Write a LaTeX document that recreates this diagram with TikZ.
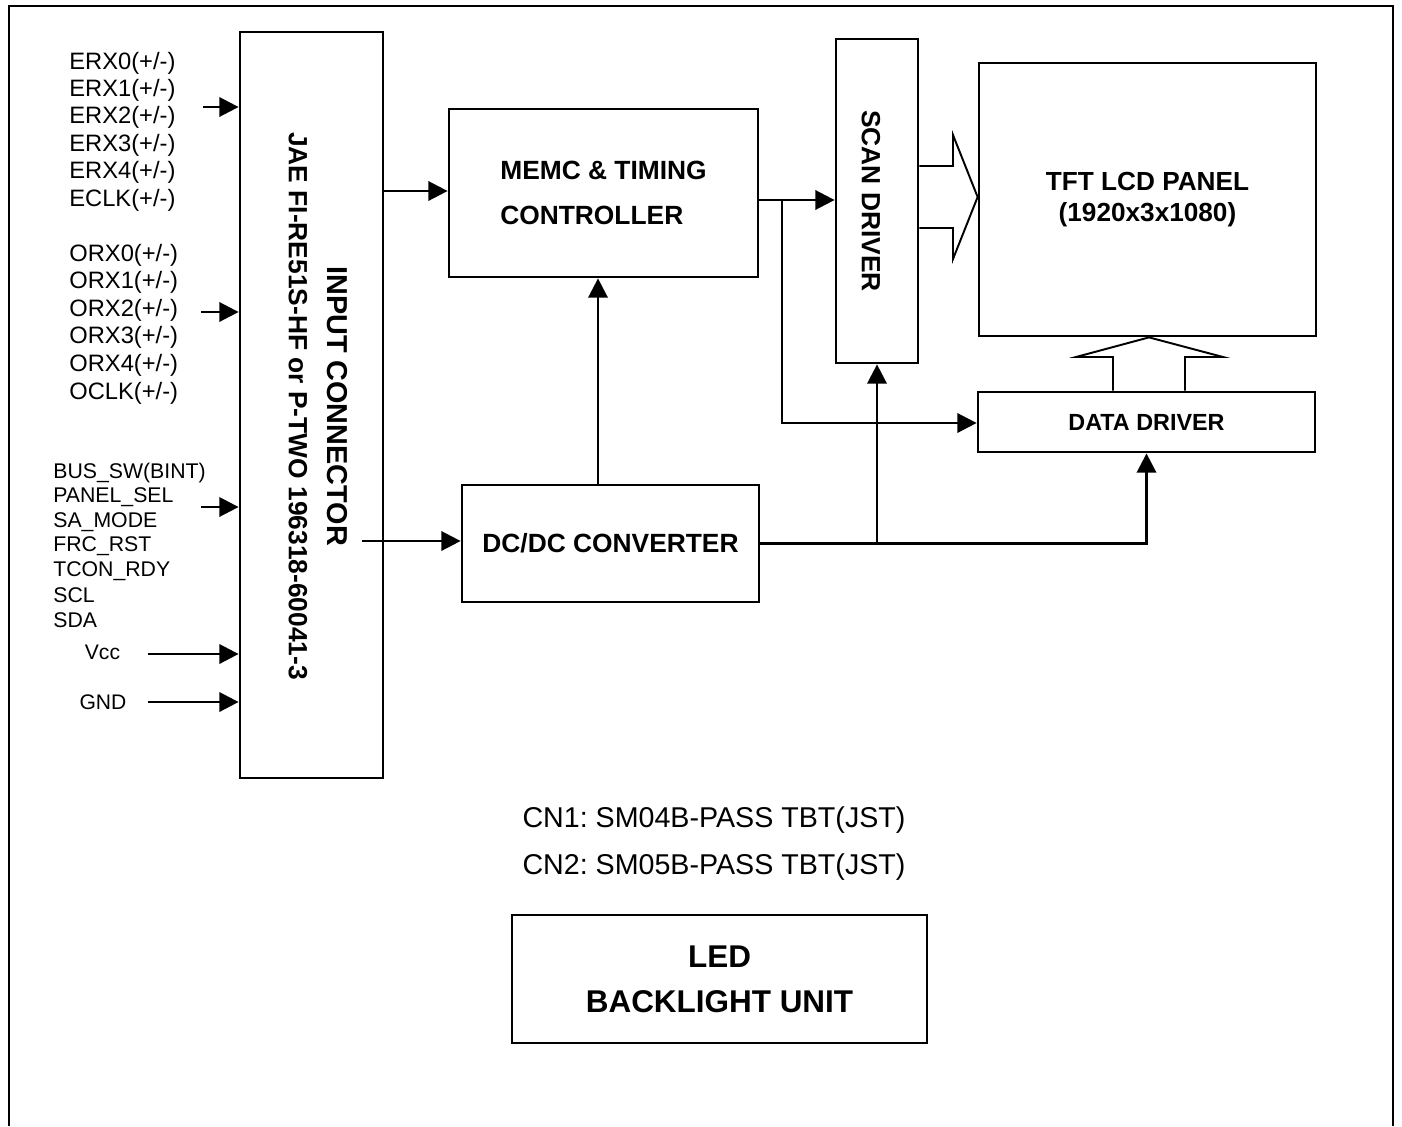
\documentclass[tikz,border=0pt]{standalone}
\usepackage{fontspec}
\setmainfont{Liberation Sans}
\usetikzlibrary{arrows.meta}
\frenchspacing

\begin{document}
\begin{tikzpicture}[x=0.02cm,y=-0.02cm,
  box/.style={draw,line width=1.6pt,inner sep=0pt},
  sig/.style={inner sep=0pt,anchor=west},
  arr/.style={line width=1.5pt,-{Triangle[length=11pt,width=11pt]}},
  hollow/.style={line width=1.1pt,line join=miter}]

\useasboundingbox (0,0) rectangle (1402,1126);

% Frame
\draw[line width=1.5pt] (9,1126) |- (1393,6) -- (1393,1126);

% Input connector
\node[box,minimum width=2.86cm,minimum height=14.92cm] (conn) at (311.5,405) {};
\node[rotate=-90,font=\bfseries\fontsize{16.4}{19}\selectfont] (conntitle) at (337,406)
{INPUT CONNECTOR};
\node[rotate=-90,font=\bfseries\fontsize{15}{18}\selectfont] (connpart) at (298,406)
{JAE FI-RE51S-HF or P-TWO 196318-60041-3};

% Input signals
\foreach \s [count=\i from 0] in {ERX0,ERX1,ERX2,ERX3,ERX4,ECLK}
{
\node[sig,font=\fontsize{13.5}{16}\selectfont] (e\i) at (69,63+27.4*\i) {\s(+/-)};
}
\foreach \s [count=\i from 0] in {ORX0,ORX1,ORX2,ORX3,ORX4,OCLK}
{
\node[sig,font=\fontsize{13.5}{16}\selectfont] (o\i) at (69,255+27.6*\i) {\s(+/-)};
}
\foreach \s [count=\i from 0] in {BUS\_SW(BINT),PANEL\_SEL,SA\_MODE,FRC\_RST,TCON\_RDY,SCL,SDA}
{
\node[sig,font=\fontsize{12.1}{14}\selectfont] (b\i) at (53,473+24.5*\i) {\s};
}
\node[font=\fontsize{12}{14}\selectfont] (vcc) at (102.5,652) {Vcc};
\node[font=\fontsize{12}{14}\selectfont] (gnd) at (103,702) {GND};

\foreach \n/\x/\y in {ein/203/107,oin/201/312,bin/201/507,vin/148/654,gin/148/702}
{
\coordinate (\n) at (\x,\y);
\draw[arr] (\n) -- (\n -| conn.west);
}

% Blocks
\node[box,minimum width=6.18cm,minimum height=3.36cm,align=left,
  font=\bfseries\fontsize{15}{26}\selectfont] (memc) at (603.5,193)
{MEMC \& TIMING\\CONTROLLER};
\node[box,minimum width=5.94cm,minimum height=2.34cm,
  font=\bfseries\fontsize{15}{18}\selectfont] (dcdc) at (610.5,543.5)
{DC/DC CONVERTER};
\node[box,minimum width=1.64cm,minimum height=6.48cm] (scan) at (877,201) {};
\node[rotate=-90,font=\bfseries\fontsize{15}{18}\selectfont] (scantext) at (871,201)
{SCAN DRIVER};
\node[box,minimum width=6.74cm,minimum height=5.46cm,align=center,
  font=\bfseries\fontsize{14.9}{18.1}\selectfont] (tft) at (1147.5,199.5)
{TFT LCD PANEL\\(1920x3x1080)};
\node[box,minimum width=6.74cm,minimum height=1.2cm,
  font=\bfseries\fontsize{13.3}{16}\selectfont] (data) at (1146.5,422)
{\raisebox{-2.8pt}{DATA DRIVER}};

% Backlight
\node[font=\fontsize{16.3}{19}\selectfont] (cn1) at (714,820) {CN1: SM04B-PASS TBT(JST)};
\node[font=\fontsize{16.3}{19}\selectfont] (cn2) at (714,867) {CN2: SM05B-PASS TBT(JST)};
\node[box,minimum width=8.3cm,minimum height=2.56cm,align=center,
  font=\bfseries\fontsize{17.9}{25.5}\selectfont] (led) at (719.5,979)
{LED\\BACKLIGHT UNIT};

% Signal paths
\draw[arr] (conn.east |- 0,191) -- (memc.west |- 0,191);
\coordinate (pwr) at (362,541);
\draw[arr] (pwr) -- (pwr -| dcdc.west);
\draw[arr] (dcdc.north -| 598,0) -- (memc.south -| 598,0);
\draw[arr] (memc.east |- 0,200) -- (scan.west |- 0,200);
\coordinate (tcon) at (782,200);
\draw[arr] (tcon) |- (data.west |- 0,423);
\draw[arr] (dcdc.east) -| (data.south);
\coordinate (vgl) at (dcdc.east -| scan.south);
\draw[arr] (vgl) -- (scan.south);

% Wide arrows
\draw[hollow] (scan.east |- 0,166) -- (953,166) -- (953,135) -- (tft.west |- 0,197)
  -- (953,259) -- (953,228) -- (scan.east |- 0,228);
\draw[hollow] (data.north -| 1113,0) -- (1113,357) -- (1076,357) -- (tft.south -| 1149,0)
  -- (1223,357) -- (1185,357) -- (data.north -| 1185,0);

\end{tikzpicture}
\end{document}
